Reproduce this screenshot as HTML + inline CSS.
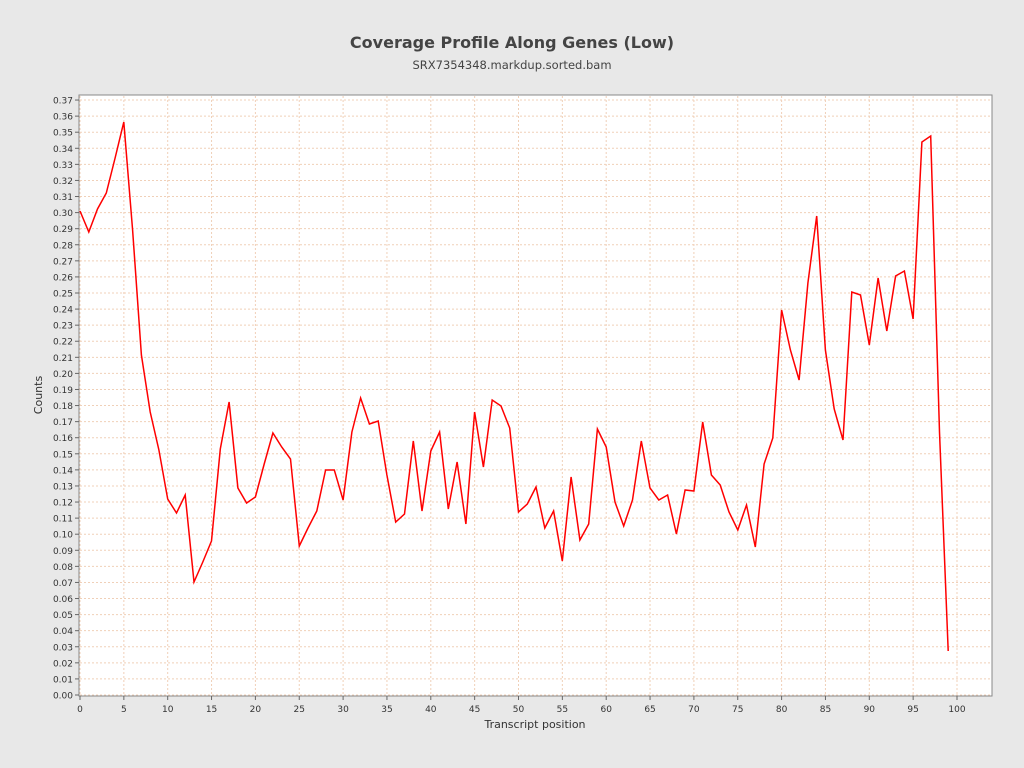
<!DOCTYPE html>
<html><head><meta charset="utf-8"><style>
body{margin:0;background:#e8e8e8;}
svg{display:block;font-family:"DejaVu Sans","Liberation Sans",sans-serif;}
</style></head><body>
<svg width="1024" height="768" xmlns="http://www.w3.org/2000/svg">
<rect width="1024" height="768" fill="#e8e8e8"/>
<text x="512" y="48" text-anchor="middle" font-size="16" font-weight="bold" fill="#444">Coverage Profile Along Genes (Low)</text>
<text x="512" y="69" text-anchor="middle" font-size="11.5" fill="#444">SRX7354348.markdup.sorted.bam</text>
<rect x="79" y="95" width="913" height="601" fill="#fff" stroke="#888"/>
<g id="grid" stroke="#f0d0b8" stroke-dasharray="2,2" stroke-width="1"></g>
<g id="ticks" font-size="9" fill="#333"></g>
<polyline id="line" fill="none" stroke="#f00" stroke-width="1.5"/>
<text x="535" y="728" text-anchor="middle" font-size="11" fill="#333">Transcript position</text>
<text transform="translate(42,395) rotate(-90)" text-anchor="middle" font-size="11" fill="#333">Counts</text>
</svg>
<script>
var ns="http://www.w3.org/2000/svg",g=document.getElementById('grid'),t=document.getElementById('ticks');
function el(p,n,a,txt){var e=document.createElementNS(ns,n);for(var k in a)e.setAttribute(k,a[k]);if(txt!=null)e.textContent=txt;p.appendChild(e);return e;}
function X(i){return 80+8.77*i;}
function Y(v){return 695-v*1608;}
for(var i=0;i<=100;i+=5){var x=X(i);el(g,'line',{x1:x,x2:x,y1:96,y2:695});el(t,'line',{x1:x,x2:x,y1:696,y2:700,stroke:'#666'});el(t,'text',{x:x,y:712,'text-anchor':'middle'},String(i));}
for(var j=0;j<=37;j++){var y=Y(j/100);el(g,'line',{x1:80,x2:991,y1:y,y2:y});el(t,'line',{x1:75,x2:79,y1:y,y2:y,stroke:'#666'});el(t,'text',{x:73,y:y+3.5,'text-anchor':'end'},(j/100).toFixed(2));}
var py=[211,232,209,193,158,122,230,355,412,450,499,513,495,582,562,541,449,402,488,503,497,464,433,447,459,546,528,511,470,470,500,432,398,424,421,475,522,514,441,511,451,432,509,462,524,412,467,400,406,428,512,504,487,528,511,561,477,540,524,429,447,502,526,500,441,488,500,495,534,490,491,422,475,485,512,530,505,547,464,438,310,350,380,283,216,350,409,440,292,295,345,278,331,276,271,319,142,136,432,651];
document.getElementById('line').setAttribute('points',py.map(function(v,i){return X(i).toFixed(1)+','+v;}).join(' '));
</script>
</body></html>
